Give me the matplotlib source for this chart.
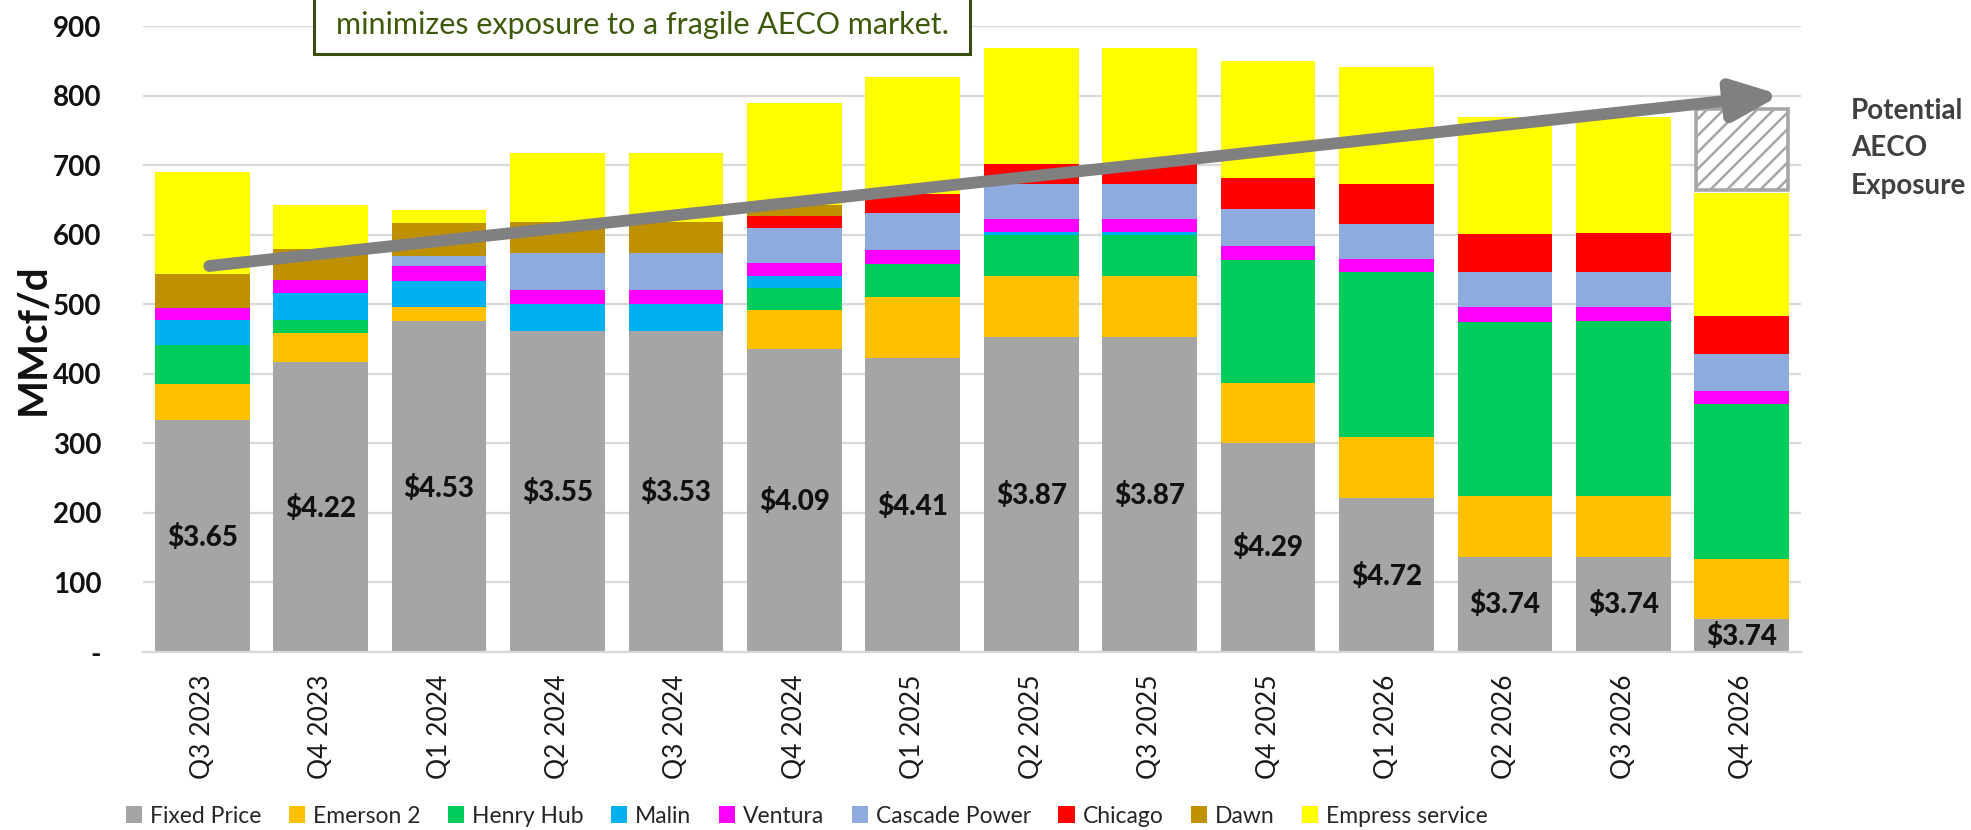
import matplotlib
matplotlib.use("Agg")
import matplotlib.pyplot as plt
from matplotlib.patches import Patch, Rectangle
import numpy as np

plt.rcParams['font.family'] = ['Lato', 'DejaVu Sans']
plt.rcParams['hatch.linewidth'] = 1.8

categories = ['Q3 2023', 'Q4 2023', 'Q1 2024', 'Q2 2024', 'Q3 2024', 'Q4 2024', 'Q1 2025',
              'Q2 2025', 'Q3 2025', 'Q4 2025', 'Q1 2026', 'Q2 2026', 'Q3 2026', 'Q4 2026']

fixed_price = [333, 417, 476, 462, 462, 435, 423, 453, 453, 300, 221, 137, 137, 47]
emerson_2 = [53, 42, 20, 0, 0, 57, 88, 88, 88, 87, 88, 87, 87, 87]
henry_hub = [55, 18, 0, 0, 0, 31, 47, 58, 58, 177, 237, 250, 252, 222]
malin = [36, 39, 37, 38, 38, 18, 0, 5, 5, 0, 0, 0, 0, 0]
ventura = [18, 19, 22, 20, 20, 18, 20, 19, 19, 19, 19, 22, 20, 19]
cascade_power = [0, 0, 14, 53, 53, 50, 53, 50, 50, 54, 50, 50, 50, 54]
chicago = [0, 0, 0, 0, 0, 18, 27, 28, 28, 45, 58, 55, 57, 54]
dawn = [48, 45, 48, 45, 45, 15, 0, 0, 0, 0, 0, 0, 0, 0]
empress_service = [147, 63, 19, 99, 99, 148, 168, 168, 168, 168, 168, 168, 166, 177]

aeco_exposure = [0, 0, 0, 0, 0, 0, 0, 0, 0, 0, 0, 0, 0, 117]

price_labels = ['$3.65', '$4.22', '$4.53', '$3.55', '$3.53', '$4.09', '$4.41',
                '$3.87', '$3.87', '$4.29', '$4.72', '$3.74', '$3.74', '$3.74']
price_label_y = [164, 207, 235, 230, 229, 216, 209, 225, 225, 150, 108, 69, 69, 23]

series_names = ['Fixed Price', 'Emerson 2', 'Henry Hub', 'Malin', 'Ventura',
                'Cascade Power', 'Chicago', 'Dawn', 'Empress service']
series_values = [fixed_price, emerson_2, henry_hub, malin, ventura,
                 cascade_power, chicago, dawn, empress_service]
series_colors = ['#a5a5a5', '#ffc000', '#00cc5c', '#00b0f0', '#ff00ff',
                 '#8faadc', '#ff0000', '#bf9000', '#ffff00']

W, H = 1971, 830
fig = plt.figure(figsize=(W / 100, H / 100), dpi=100)
ax = fig.add_axes([143 / W, 1 - 652 / H, (1801 - 143) / W, (652 - 26) / H])

x = np.arange(len(categories))
bw = 0.8
bottom = np.zeros(len(categories))
for name, vals, col in zip(series_names, series_values, series_colors):
    v = np.array(vals, dtype=float)
    ax.bar(x, v, bw, bottom=bottom, color=col, linewidth=0, zorder=2, label=name)
    bottom += v

# Potential AECO exposure (hatched)
aeco = np.array(aeco_exposure, dtype=float)
mask = aeco > 0
ax.bar(x[mask], aeco[mask], bw * 0.97, bottom=bottom[mask] + 4, facecolor='white',
       edgecolor='#a6a6a6', linewidth=2.6, hatch='//', zorder=3)

# Price labels
for xi, lab, yy in zip(x, price_labels, price_label_y):
    ax.text(xi, yy, lab, ha='center', va='center', fontsize=20, fontweight='black',
            color='#111111', zorder=5)

ax.set_xlim(-0.5, len(categories) - 0.5)
ax.set_ylim(0, 900)
ax.set_yticks(np.arange(0, 901, 100))
ax.set_yticklabels(['-'] + [str(v) for v in range(100, 901, 100)])
ax.yaxis.grid(True, color='#d9d9d9', linewidth=1.6, zorder=0)
ax.set_axisbelow(True)
for s in ['top', 'right', 'left']:
    ax.spines[s].set_visible(False)
ax.spines['bottom'].set_color('#d9d9d9')
ax.spines['bottom'].set_linewidth(1.6)
ax.tick_params(axis='y', length=0, pad=30, labelsize=20, labelcolor='#111111')
for t in ax.get_yticklabels():
    t.set_fontweight('bold')
ax.set_xticks(x)
ax.set_xticklabels(categories, rotation=90, fontsize=19, color='#1a1a1a')
ax.tick_params(axis='x', length=0, pad=16)
ax.set_ylabel('MMcf/d', fontsize=29, fontweight='bold', color='#111111', va='center')
ax.yaxis.set_label_coords(-(143 - 33) / (1801 - 143), 0.5)

# Trend arrow
ax.annotate('', xy=(13.33, 801), xytext=(0.06, 555),
            arrowprops=dict(arrowstyle='-|>,head_length=28,head_width=12',
                            mutation_scale=1, lw=8.5, color='#808080',
                            shrinkA=0, shrinkB=0, capstyle='round'),
            zorder=6)

# Potential AECO Exposure text
for i, line in enumerate(['Potential', 'AECO', 'Exposure']):
    fig.text(1851 / W, 1 - (111 + i * 37.5) / H, line, fontsize=20, fontweight='bold',
             color='#404040', ha='left', va='center')

# Top annotation box (cut off at top)
fig.patches.append(Rectangle((314 / W, 1 - 54 / H), (970 - 314) / W, 80 / H,
                             transform=fig.transFigure, facecolor='white',
                             edgecolor='#3b4d10', linewidth=2.2, zorder=10))
fig.text((314 + 970) / 2 / W, 1 - 25 / H, 'minimizes exposure to a fragile AECO market.',
         fontsize=22, color='#3d5a0c', ha='center', va='center', zorder=11)

# Legend
handles = [Patch(facecolor=c, edgecolor='none', label=n)
           for n, c in zip(series_names, series_colors)]
fig.legend(handles=handles, loc='center', bbox_to_anchor=(807 / W, 1 - 816 / H),
           ncol=9, frameon=False, fontsize=16.5, handlelength=0.7, handleheight=0.7,
           handletextpad=0.35, columnspacing=1.2, labelcolor='#262626')

fig.savefig('out.png', dpi=100)
